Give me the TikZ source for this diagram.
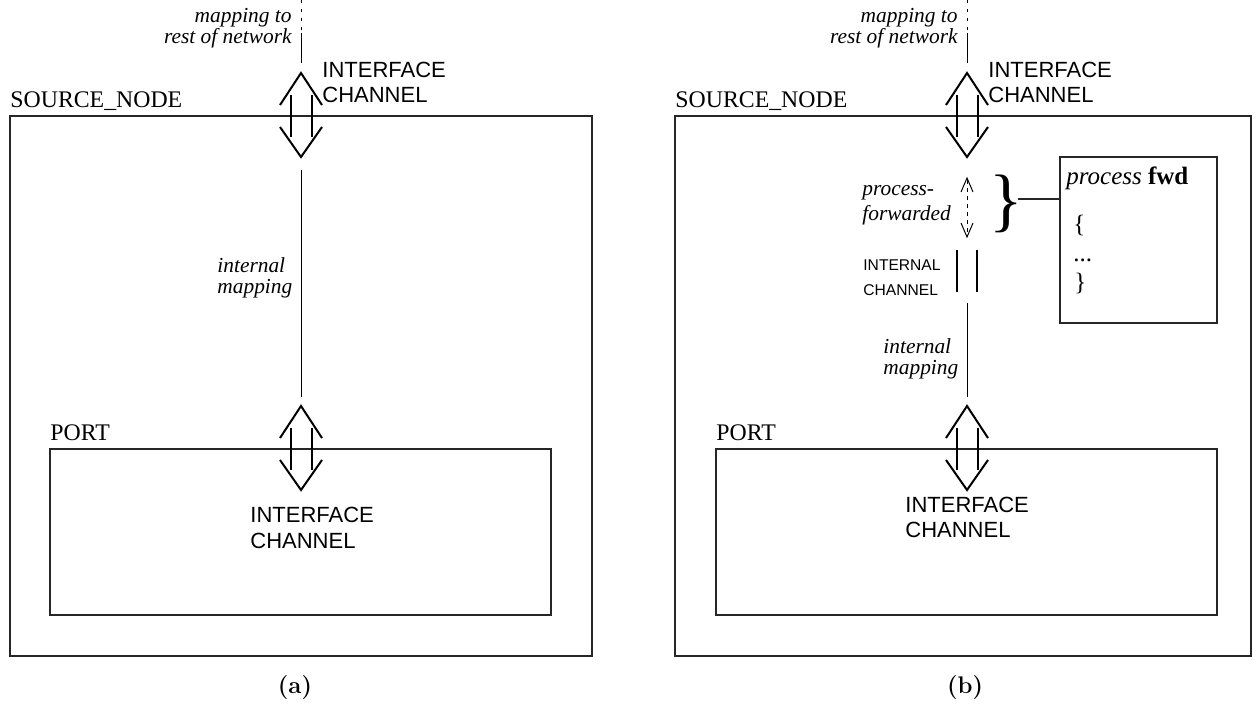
\documentclass[tikz,border=0pt]{standalone}
\usepackage{fontspec}
\newfontfamily\tms{Liberation Serif}
\newfontfamily\hlv{Liberation Sans}
\tikzset{
  box/.style={draw=black!85, line width=0.7pt},
  arr/.style={line width=1pt},
  thinline/.style={line width=0.5pt},
  dotline/.style={line width=0.5pt, dash pattern=on 1.5pt off 3pt},
  dashline/.style={line width=0.4pt, dash pattern=on 2pt off 2pt},
  lbl/.style={inner sep=0pt, font=\hlv\fontsize{11}{13}\selectfont},
  smalllbl/.style={inner sep=0pt, font=\hlv\fontsize{7.8}{9}\selectfont},
  tlbl/.style={inner sep=0pt, font=\tms\fontsize{11.9}{14}\selectfont},
  ilbl/.style={inner sep=0pt, font=\tms\itshape\fontsize{10.7}{12}\selectfont},
  plbl/.style={inner sep=0pt, font=\tms\fontsize{12.5}{14}\selectfont},
  captionlbl/.style={inner sep=0pt, font=\bfseries\fontsize{12}{14}\selectfont},
  dblarrow/.pic={
    \draw[arr] (-21,32) -- (0,0) -- (21,32);
    \draw[arr] (-10.5,22) -- (-10.5,64);
    \draw[arr] (10.5,22) -- (10.5,64);
    \draw[arr] (-21,54) -- (0,84) -- (21,54);
  },
  smallarrow/.pic={
    \draw[thinline] (-6,14) -- (0,0) -- (6,14);
    \draw[thinline] (-6,45) -- (0,59) -- (6,45);
    \draw[dashline] (0,2) -- (0,57);
  }
}
\begin{document}
\begin{tikzpicture}[x=0.5pt,y=-0.5pt]
\useasboundingbox (0,0) rectangle (1258,707);

% ---------------- panel (a) ----------------
\node[tlbl, anchor=base west] (srcA) at (10,107) {SOURCE\_NODE};
\draw[box] (10,116) rectangle (592,656);
\coordinate (topA) at (301,0);
\coordinate (dotAe) at (301,31);
\coordinate (solA) at (301,33);
\coordinate (solAe) at (301,63);
\draw[dotline] (topA) -- (dotAe);
\draw[thinline] (solA) -- (solAe);
\node[ilbl, anchor=base east] (mapA1) at (292,22) {mapping to};
\node[ilbl, anchor=base east] (mapA2) at (292,43) {rest of network};
\node[lbl, anchor=base west] (ifA1) at (322,77) {INTERFACE};
\node[lbl, anchor=base west] (ifA2) at (322,102) {CHANNEL};
\pic at (301,73) {dblarrow};
\coordinate (imA) at (301,170);
\coordinate (imAe) at (301,397);
\draw[thinline] (imA) -- (imAe);
\node[ilbl, anchor=base west] (intA1) at (217,272) {internal};
\node[ilbl, anchor=base west] (intA2) at (217,293) {mapping};
\node[tlbl, anchor=base west] (portA) at (50,440) {PORT};
\draw[box] (50,449) rectangle (551,615);
\pic at (301,406) {dblarrow};
\node[lbl, anchor=base west] (pifA1) at (250,522) {INTERFACE};
\node[lbl, anchor=base west] (pifA2) at (250,548) {CHANNEL};
\node[captionlbl] (capA) at (295,688) {(a)};

% ---------------- panel (b) ----------------
\node[tlbl, anchor=base west] (srcB) at (675,107) {SOURCE\_NODE};
\draw[box] (675,116) rectangle (1251,656);
\coordinate (topB) at (967,0);
\coordinate (dotBe) at (967,31);
\coordinate (solB) at (967,33);
\coordinate (solBe) at (967,63);
\draw[dotline] (topB) -- (dotBe);
\draw[thinline] (solB) -- (solBe);
\node[ilbl, anchor=base east] (mapB1) at (958,22) {mapping to};
\node[ilbl, anchor=base east] (mapB2) at (958,43) {rest of network};
\node[lbl, anchor=base west] (ifB1) at (988,77) {INTERFACE};
\node[lbl, anchor=base west] (ifB2) at (988,102) {CHANNEL};
\pic at (967,73) {dblarrow};

% process-forwarded
\pic at (967,178) {smallarrow};
\node[ilbl, anchor=base west] (pfB1) at (862,195) {process-};
\node[ilbl, anchor=base west] (pfB2) at (862,220) {forwarded};
\node[inner sep=0pt, font=\tms\fontsize{35}{35}\selectfont] (brace) at (1006,204) {\}};
\coordinate (braceR) at (1018,199);
\draw[box] (1060,157) rectangle (1217,323);
\coordinate (procL) at (1060,199);
\draw[box] (braceR) -- (procL);
\node[plbl, anchor=base west] (procT) at (1066,184) {\textit{process} \textbf{fwd}};
\node[plbl, anchor=base west] (procO) at (1073,232) {\{};
\node[plbl, anchor=base west] (procD) at (1073,261) {...};
\node[plbl, anchor=base west] (procC) at (1074,290) {\}};

% internal channel
\coordinate (icL1) at (957,250);
\coordinate (icL2) at (957,292);
\coordinate (icR1) at (977,250);
\coordinate (icR2) at (977,292);
\draw[arr] (icL1) -- (icL2);
\draw[arr] (icR1) -- (icR2);
\node[smalllbl, anchor=base west] (icB1) at (863,270) {INTERNAL};
\node[smalllbl, anchor=base west] (icB2) at (863,295) {CHANNEL};

% internal mapping
\coordinate (imB) at (967,303);
\coordinate (imBe) at (967,397);
\draw[thinline] (imB) -- (imBe);
\node[ilbl, anchor=base west] (intB1) at (883,353) {internal};
\node[ilbl, anchor=base west] (intB2) at (883,374) {mapping};

\node[tlbl, anchor=base west] (portB) at (716,440) {PORT};
\draw[box] (716,449) rectangle (1217,615);
\pic at (967,406) {dblarrow};
\node[lbl, anchor=base west] (pifB1) at (905,512) {INTERFACE};
\node[lbl, anchor=base west] (pifB2) at (905,537) {CHANNEL};
\node[captionlbl] (capB) at (965,688) {(b)};
\end{tikzpicture}
\end{document}
